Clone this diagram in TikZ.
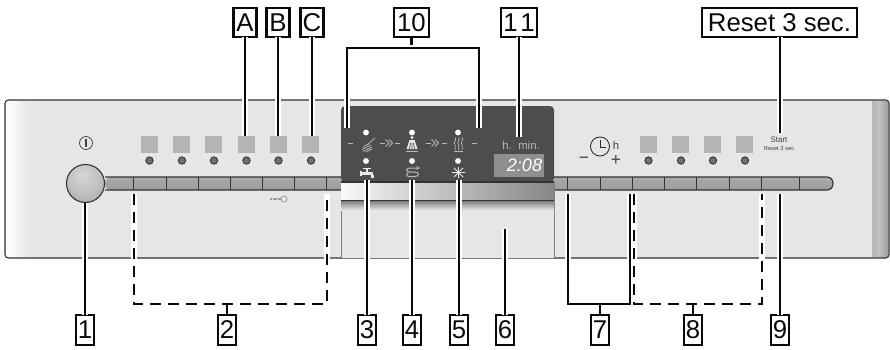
\documentclass[tikz,border=0pt]{standalone}
\usepackage{fontspec}
\setmainfont{Liberation Sans}
\definecolor{panel}{HTML}{E6E6E4}
\definecolor{disp}{HTML}{4D4D4D}
\definecolor{sq}{HTML}{B4B4B4}
\definecolor{led}{HTML}{6E6E6E}
\definecolor{ink}{HTML}{0A0A0A}
\definecolor{icon}{HTML}{E8E8E8}
\definecolor{dimicon}{HTML}{B8B8B8}
\definecolor{panelline}{HTML}{333333}
\definecolor{stripmid}{HTML}{D2D2D2}
\definecolor{striptop}{HTML}{ABABAB}
\definecolor{stripbot}{HTML}{9C9C9C}
\definecolor{ka}{HTML}{D6D6D6}
\definecolor{kb}{HTML}{C2C2C2}
\definecolor{kc}{HTML}{9A9A9A}
\definecolor{kd}{HTML}{7E7E7E}
\pgfdeclareradialshading{knobsh}{\pgfpoint{-4bp}{12bp}}{color(0bp)=(ka); color(20bp)=(kb); color(45bp)=(kc); color(68bp)=(kd)}
\newcommand{\labfont}{\fontsize{19.3}{20}\selectfont}
\tikzset{
  lab/.style={draw=ink,line width=1.7pt,fill=white,inner sep=0pt,outer sep=0pt,minimum height=22.2pt,minimum width=13.6pt,font=\labfont,text=ink},
  conn/.style={draw=ink,line width=1.6pt,preaction={draw=white,line width=3.8pt}},
  dconn/.style={draw=ink,line width=1.6pt,dash pattern=on 8.25pt off 5.25pt,preaction={draw=white,solid,line width=3.8pt}},
  plainc/.style={draw=ink,line width=1.6pt},
  sqr/.style={fill=sq,inner sep=0pt,outer sep=0pt,minimum size=12.75pt},
  ledn/.style={circle,draw=panelline,line width=.6pt,fill=led,inner sep=0pt,outer sep=0pt,minimum size=5.6pt},
  wled/.style={circle,fill=white,inner sep=0pt,minimum size=4.4pt},
  ic/.style={draw=icon,line width=.6pt},
  dic/.style={draw=dimicon,line width=.55pt},
  dtxt/.style={text=dimicon,inner sep=0pt,font=\fontsize{8.5}{9}\selectfont},
  ptxt/.style={text=black!75,inner sep=0pt},
  divi/.style={draw=panelline,line width=.75pt},
}
\begin{document}
\begin{tikzpicture}[x=0.75pt,y=-0.75pt]
\useasboundingbox (0,0) rectangle (890,350);
\fill[white] (0,0) rectangle (890,350);
% panel
\fill[panel,rounded corners=2.5pt] (5,100) rectangle (889,258);
\shade[left color=white,right color=panel,shading angle=90,rounded corners=2pt] (6,101) rectangle (30,257);
\shade[left color=panel!90!gray,right color=gray!75!white] (872,101) rectangle (888,257);
\fill[gray!55!white] (872,101) rectangle (878,257);
\draw[panelline,line width=.8pt,rounded corners=2.5pt] (5,100) rectangle (889,258);
% strip
\shade[top color=striptop,middle color=stripmid,bottom color=stripbot,rounded corners=4.5pt] (105,177) rectangle (833,190);
\draw[panelline,line width=.85pt,rounded corners=4.5pt] (105,177) -- (833,177) -- (833,190) -- (105,190);
\foreach \x in {133,166,198,230,262,294,326,567,600,632,664,696,729,761,799}
  \draw[divi] (\x,177) -- (\x,190);
% centre block
\fill[panel] (341,182) rectangle (554,258);
\draw[gray,line width=.7pt] (341,182) -- (341,258) (554,182) -- (554,258);
\shade[left color=white!95!gray,right color=gray!95!white] (341,182) rectangle (554,200);
\shade[top color=gray!90!black,bottom color=panel] (341,200) rectangle (554,210);
\draw[panelline,line width=1pt] (341,200.5) -- (554,200.5);
\fill[disp,rounded corners=3pt] (341,182) -- (341,106) -- (554,106) -- (554,182) -- cycle;
\draw[panelline,line width=.8pt] (341,182) -- (554,182);
% knob
\node[circle,draw=panelline,line width=.8pt,minimum size=28.5pt,inner sep=0pt,outer sep=0pt,shading=knobsh] (knob) at (85.5,183.5) {};
% power icon
\draw[black!75,line width=.55pt] (86,143) circle (6.5);
\draw[black!75,line width=.8pt] (86,139) -- (86,147);
% left squares and leds
\foreach \n/\x in {s1/149.5,s2/181.5,s3/213.5,s4/246.5,s5/278.5,s6/310.5}
  \node[sqr] (\n) at (\x,144.5) {};
\foreach \n/\x in {l1/149.5,l2/182,l3/214,l4/246.5,l5/278.5,l6/311}
  \node[ledn] (\n) at (\x,160.5) {};
\foreach \n/\x in {s7/648.5,s8/680.5,s9/712.5,s10/744.5}
  \node[sqr] (\n) at (\x,144.5) {};
\foreach \n/\x in {l7/648.5,l8/681,l9/713,l10/745}
  \node[ledn] (\n) at (\x,160.5) {};
% key icon
\draw[gray!80!white,line width=1.2pt,dash pattern=on 1.5pt off .4pt] (270,199) -- (281,199);
\draw[gray!80!white,line width=.6pt] (284,199) circle (3);
% clock
\draw[black!85,line width=.65pt] (600,146.5) circle (9.5);
\draw[black!85,line width=.65pt] (600,140) -- (600,147) -- (606,147);
\node[ptxt,font=\fontsize{8.5}{9}\selectfont] (hh) at (616,145) {h};
\node[ptxt,font=\fontsize{13}{14}\selectfont] (mn) at (584,160.5) {−};
\node[ptxt,font=\fontsize{13}{14}\selectfont] (pl) at (616,160.5) {+};
\node[ptxt,font=\fontsize{6}{7}\selectfont] (st) at (779,140) {Start};
\node[ptxt,font=\fontsize{4.3}{5}\selectfont] (rs) at (779,149) {Reset 3 sec};
% display contents
\foreach \n/\x in {a/366,b/412,c/458}{
  \node[wled] (t\n) at (\x,132.5) {};
  \node[wled] (u\n) at (\x,161) {};
}
\foreach \x in {350,382,397,428,444,474}
  \draw[dic,line width=.7pt] (\x-2.5,143) -- (\x+2.5,143);
\foreach \x in {389,435}{
  \draw[dic] (\x-3.5,139.5) -- (\x,143) -- (\x-3.5,146.5);
  \draw[dic] (\x,139.5) -- (\x+3.5,143) -- (\x,146.5);
}
% brush
\draw[dic] (375,138) -- (367,145);
\draw[dic] (363,147) -- (369,143.5) (362,149.5) -- (371,145) (363,151.5) -- (372,147) (366,152) -- (372,149);
% shower
\fill[icon] (412,137.5) circle (1.6);
\fill[icon] (409.5,140) -- (414.5,140) -- (417.5,149) -- (406.5,149) -- cycle;
\draw[disp,line width=.5pt] (410.5,143) -- (409.5,149) (413.5,143) -- (414.5,149) (412,143) -- (412,149);
\draw[dic] (406,151) -- (418,151);
% steam
\foreach \x in {455,458.5,462}
  \draw[dic] (\x,137.5) .. controls (\x+2.5,140) and (\x-2.5,142) .. (\x,145) .. controls (\x+2,147) and (\x-1,148) .. (\x,150);
\draw[dic] (454,151.5) -- (463,151.5);
% tap
\fill[icon] (361,172) rectangle (373,175);
\fill[icon] (365.5,169) rectangle (368,172);
\draw[icon,line width=.9pt] (363,168.5) -- (370.5,168.5);
\fill[icon] (370.5,175) rectangle (373.5,177.5);
\fill[icon] (360,171) rectangle (361.5,176);
% spiral
\draw[dic,line width=.75pt] (419,168) -- (410,168) .. controls (405.5,168) and (405.5,172) .. (410,172) -- (415,172) .. controls (419.5,172) and (419.5,176.5) .. (415,176.5) -- (409,176.5) .. controls (406,176.5) and (406,173.5) .. (408,172.5);
\draw[dic,line width=.6pt] (416.5,166.5) -- (419,168) -- (416.5,169.5);
% star
\draw[ic,line width=.7pt] (452,172.5) -- (465,172.5) (458.5,167) -- (458.5,178) (454,168) -- (463,177) (463,168) -- (454,177);
% time
\node[dtxt] (hl) at (507,145) {h.};
\node[dtxt] (ml) at (529,145) {min.};
\node[fill=gray!88!white,inner sep=0pt,outer sep=0pt,minimum width=37.5pt,minimum height=17pt] (lcd) at (519,165.5) {};
\node[text=white,inner sep=0pt,font=\fontsize{13.5}{15}\selectfont\itshape] (tm) at (524.5,165.5) {2:08};
% labels
\node[lab,minimum width=17.2pt] (A) at (245,22.5) {A};
\node[lab,minimum width=17.2pt] (B) at (278,22.5) {B};
\node[lab,minimum width=17.2pt] (C) at (312,22.5) {C};
\node[lab,minimum width=26.2pt] (n10) at (411.5,22.5) {10};
\node[lab,minimum width=27pt] (n11) at (519,22.5) {1\hspace{2pt}1};
\node[lab,minimum width=116.6pt] (R) at (779.5,22.5) {Reset 3 sec.};
\foreach \n/\x/\t in {n1/85/1,n2/227/2,n3/367/3,n4/412/4,n5/459/5,n6/505/6,n7/600/7,n8/693/8,n9/780/9}
  \node[lab] (\n) at (\x,330) {\t};
% named free ends
\coordinate (br10l) at (347,48);
\coordinate (br10r) at (479,48);
\coordinate (e10l) at (347,128);
\coordinate (e10r) at (479,128);
\coordinate (e11) at (519,137);
\coordinate (eR) at (780,133);
\coordinate (e3) at (367,180);
\coordinate (e4) at (412,180);
\coordinate (e5) at (459,180);
\coordinate (e6) at (505,229);
\coordinate (e9) at (780,194);
\coordinate (d2a) at (134,194);
\coordinate (d2b) at (134,304);
\coordinate (d2c) at (327,304);
\coordinate (d2d) at (327,194);
\coordinate (b7a) at (568,194);
\coordinate (b7b) at (568,304);
\coordinate (b7c) at (630,304);
\coordinate (b7d) at (630,194);
\coordinate (d8a) at (634,194);
\coordinate (d8b) at (634,304);
\coordinate (d8c) at (762,304);
\coordinate (d8d) at (762,194);
% connectors
\draw[conn] (A.south) -- (A.south |- s4.north);
\draw[conn] (B.south) -- (B.south |- s5.north);
\draw[conn] (C.south) -- (C.south |- s6.north);
\draw[plainc] (n10.south) -- (n10.south |- br10l);
\draw[conn] (e10l) -- (br10l) -- (br10r) -- (e10r);
\draw[conn] (n11.south) -- (e11);
\draw[conn] (R.south -| eR) -- (eR);
\draw[conn] (n1.north) -- (n1.north |- knob.south);
\draw[conn] (n3.north) -- (e3);
\draw[conn] (n4.north) -- (e4);
\draw[conn] (n5.north) -- (e5);
\draw[conn] (n6.north) -- (e6);
\draw[conn] (n9.north) -- (e9);
\draw[dconn] (d2a) -- (d2b) -- (d2c) -- (d2d);
\draw[plainc] (n2.north) -- (n2.north |- d2b);
\draw[conn] (b7a) -- (b7b) -- (b7c) -- (b7d);
\draw[plainc] (n7.north) -- (n7.north |- b7b);
\draw[dconn] (d8a) -- (d8b) -- (d8c) -- (d8d);
\draw[plainc] (n8.north) -- (n8.north |- d8b);
\end{tikzpicture}
\end{document}
